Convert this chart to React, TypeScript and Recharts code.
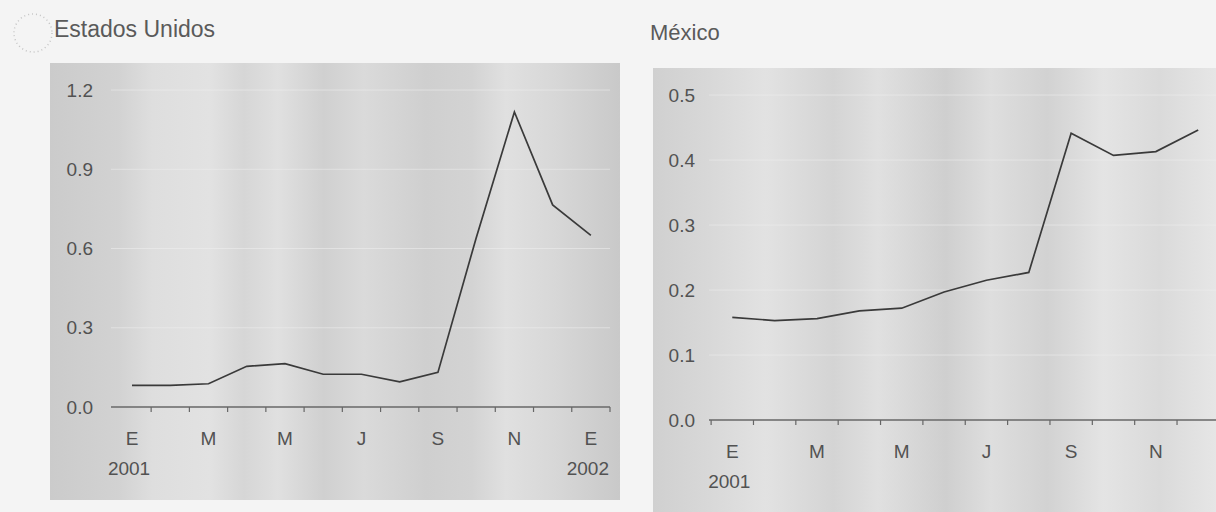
import React from "react";
import {
  LineChart,
  Line,
  XAxis,
  YAxis,
  CartesianGrid,
} from "recharts";

// Estados Unidos: E 2001 .. E 2002 (13 meses)
const usValues = [0.082, 0.082, 0.088, 0.154, 0.164, 0.124, 0.124, 0.095, 0.131, 0.64, 1.117, 0.765, 0.65];
// México: E 2001 .. D 2001 (12 meses)
const mxValues = [0.158, 0.153, 0.156, 0.168, 0.172, 0.197, 0.215, 0.227, 0.441, 0.407, 0.413, 0.446];

const usMonthLabels = ["E", "M", "M", "J", "S", "N", "E"];
const mxMonthLabels = ["E", "M", "M", "J", "S", "N"];
const usYearLabels = ["2001", "2002"];
const mxYearLabels = ["2001"];

const usYTicks = [0, 0.3, 0.6, 0.9, 1.2];
const mxYTicks = [0, 0.1, 0.2, 0.3, 0.4, 0.5];

const FONT = "'Liberation Sans', Arial, sans-serif";
const TEXT = "#525252";
const INK = "#3a3a3a";

const usData = usValues.map((v, i) => ({ i, v }));
const mxData = mxValues.map((v, i) => ({ i, v }));

// etiquetas en meses pares, marcas a mitad de mes
const usXTicks = [
  ...usMonthLabels.map((_, k) => k * 2),
  ...usValues.map((_, i) => i + 0.5),
];
const mxXTicks = [
  -0.5,
  ...mxMonthLabels.map((_, k) => k * 2),
  ...mxValues.slice(0, 11).map((_, i) => i + 0.5),
];

function MonthTick(props: any) {
  const { x, y, payload, months, years, lastIndex } = props;
  const v = payload.value;
  if (v % 1 !== 0) {
    return <line x1={x} x2={x} y1={y} y2={y + 5} stroke="#666" strokeWidth={1.2} />;
  }
  const label = months[v / 2];
  let year: string | null = null;
  if (v === 0) year = years[0];
  else if (v === lastIndex && years.length > 1) year = years[1];
  return (
    <g>
      <text x={x} y={y + 31} dy="0.355em" textAnchor="middle" fontSize={19} fill={TEXT}>
        {label}
      </text>
      {year && (
        <text x={x - 3} y={y + 61} dy="0.355em" textAnchor="middle" fontSize={19} fill={TEXT}>
          {year}
        </text>
      )}
    </g>
  );
}

const usPanelBg =
  "linear-gradient(to right, #cbcbcb 0%, #d2d2d2 12%, #dedede 18%, #e2e2e2 28%, #d6d6d6 34%, #e0e0e0 40%, #d0d0d0 48%, #dadada 55%, #cfcfcf 66%, #d3d3d3 74%, #e0e0e0 80%, #d8d8d8 88%, #c9c9c9 100%)";
const mxPanelBg =
  "linear-gradient(to right, #d0d0d0 0%, #d8d8d8 10%, #e2e2e2 20%, #d4d4d4 32%, #e0e0e0 40%, #cfcfcf 52%, #dedede 60%, #d2d2d2 70%, #e4e4e4 80%, #dadada 90%, #e6e6e6 100%)";

export default function App() {
  return (
    <div
      style={{
        position: "absolute",
        left: 0,
        top: 0,
        width: 1216,
        height: 512,
        background: "#f4f4f4",
        fontFamily: FONT,
        overflow: "hidden",
      }}
    >
      <div style={{ position: "absolute", left: 50, top: 63, width: 570, height: 437, background: usPanelBg }} />
      <div style={{ position: "absolute", left: 653, top: 68, width: 563, height: 444, background: mxPanelBg }} />

      <svg style={{ position: "absolute", left: 0, top: 0 }} width={60} height={70}>
        <circle cx={33} cy={33} r={19} fill="none" stroke="#c4c4c4" strokeWidth={1.5} strokeDasharray="1 3" />
      </svg>

      <div style={{ position: "absolute", left: 54, top: 16, fontSize: 23, color: "#5a5a5a" }}>Estados Unidos</div>
      <div style={{ position: "absolute", left: 650, top: 20, fontSize: 22, color: "#5a5a5a" }}>México</div>

      <div style={{ position: "absolute", left: 0, top: 0 }}>
        <LineChart width={620} height={512} data={usData} margin={{ top: 90, right: 10, left: 71, bottom: 25 }}>
          <CartesianGrid vertical={false} stroke="#eeeeee" strokeOpacity={0.55} />
          <XAxis
            dataKey="i"
            type="number"
            domain={[-0.55, 12.5]}
            ticks={usXTicks}
            interval={0}
            tickSize={0}
            tickMargin={0}
            height={80}
            axisLine={{ stroke: "#666", strokeWidth: 1.5 }}
            tickLine={false}
            tick={<MonthTick months={usMonthLabels} years={usYearLabels} lastIndex={12} />}
          />
          <YAxis
            type="number"
            domain={[0, 1.2]}
            ticks={usYTicks}
            interval={0}
            width={40}
            axisLine={false}
            tickLine={false}
            tickSize={0}
            tickMargin={18}
            tickFormatter={(v) => Number(v).toFixed(1)}
            tick={{ fontSize: 19, fill: TEXT }}
          />
          <Line
            type="linear"
            dataKey="v"
            stroke={INK}
            strokeWidth={1.7}
            dot={false}
            isAnimationActive={false}
          />
        </LineChart>
      </div>

      <div style={{ position: "absolute", left: 620, top: 0 }}>
        <LineChart width={596} height={512} data={mxData} margin={{ top: 95, right: 0, left: 49, bottom: 12 }}>
          <CartesianGrid vertical={false} stroke="#eeeeee" strokeOpacity={0.55} />
          <XAxis
            dataKey="i"
            type="number"
            domain={[-0.55, 11.42]}
            ticks={mxXTicks}
            interval={0}
            tickSize={0}
            tickMargin={0}
            height={80}
            axisLine={{ stroke: "#666", strokeWidth: 1.5 }}
            tickLine={false}
            tick={<MonthTick months={mxMonthLabels} years={mxYearLabels} lastIndex={-1} />}
          />
          <YAxis
            type="number"
            domain={[0, 0.5]}
            ticks={mxYTicks}
            interval={0}
            width={40}
            axisLine={false}
            tickLine={false}
            tickSize={0}
            tickMargin={14}
            tickFormatter={(v) => Number(v).toFixed(1)}
            tick={{ fontSize: 19, fill: TEXT }}
          />
          <Line
            type="linear"
            dataKey="v"
            stroke={INK}
            strokeWidth={1.7}
            dot={false}
            isAnimationActive={false}
          />
        </LineChart>
      </div>
    </div>
  );
}
